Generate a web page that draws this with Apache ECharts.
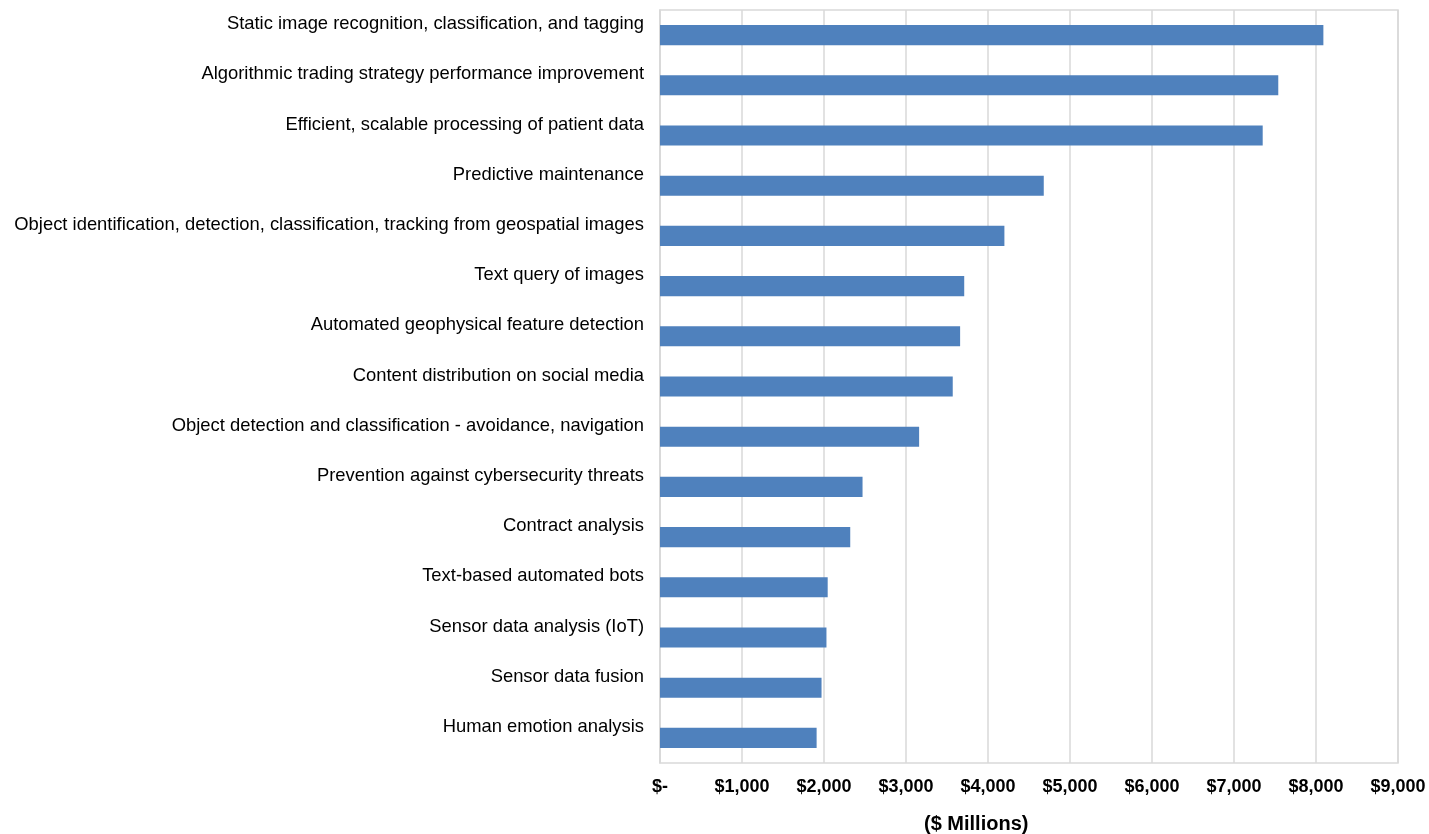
<!DOCTYPE html>
<html>
<head>
<meta charset="utf-8">
<script src="https://cdn.jsdelivr.net/npm/echarts@6/dist/echarts.min.js"></script>
<style>
  html, body { margin: 0; padding: 0; background: #fff; }
  #chart { width: 1429px; height: 834px; }
</style>
</head>
<body>
<div id="chart"></div>
<script>
// use cases, top to bottom
const categories = [
    'Static image recognition, classification, and tagging',
    'Algorithmic trading strategy performance improvement',
    'Efficient, scalable processing of patient data',
    'Predictive maintenance',
    'Object identification, detection, classification, tracking from geospatial images',
    'Text query of images',
    'Automated geophysical feature detection',
    'Content distribution on social media',
    'Object detection and classification - avoidance, navigation',
    'Prevention against cybersecurity threats',
    'Contract analysis',
    'Text-based automated bots',
    'Sensor data analysis (IoT)',
    'Sensor data fusion',
    'Human emotion analysis'
];

// $ millions
const revenue = [8090, 7540, 7350, 4680, 4200, 3710, 3660, 3570, 3160, 2470, 2320, 2045, 2030, 1970, 1910];

const xTicks = [0, 9000, 1000];  // min, max, step

const myChart = echarts.init(document.getElementById('chart'));

myChart.setOption({
    animation: false,
    title: {
        text: '($ Millions)',
        left: 924,
        top: 814,
        textStyle: { fontFamily: 'Liberation Sans', fontSize: 20, fontWeight: 'bold', color: '#000' },
        padding: 0
    },
    grid: {
        left: 660,
        right: 31,
        top: 10,
        bottom: 71,
        show: true,
        borderColor: '#d9d9d9',
        borderWidth: 1.5
    },
    xAxis: {
        type: 'value',
        min: xTicks[0],
        max: xTicks[1],
        interval: xTicks[2],
        axisLine: { show: false },
        axisTick: { show: false },
        splitLine: { lineStyle: { color: '#d9d9d9', width: 1.5 } },
        axisLabel: {
            margin: 15,
            color: '#000',
            fontFamily: 'Liberation Sans',
            fontSize: 18,
            fontWeight: 'bold',
            formatter: function (v) {
                if (v === 0) return '$-';
                return '$' + v.toLocaleString('en-US');
            }
        }
    },
    yAxis: {
        type: 'category',
        inverse: true,
        data: categories,
        axisLine: { lineStyle: { color: '#d9d9d9', width: 1.5 } },
        axisTick: { show: false },
        axisLabel: {
            margin: 16,
            color: '#000',
            fontFamily: 'Liberation Sans',
            fontSize: 18.4,
            verticalAlign: 'bottom',
            padding: [0, 0, 2, 0]
        }
    },
    series: [{
        type: 'bar',
        data: revenue,
        barWidth: '40%',
        itemStyle: { color: '#4f81bd' }
    }]
});
</script>
</body>
</html>
